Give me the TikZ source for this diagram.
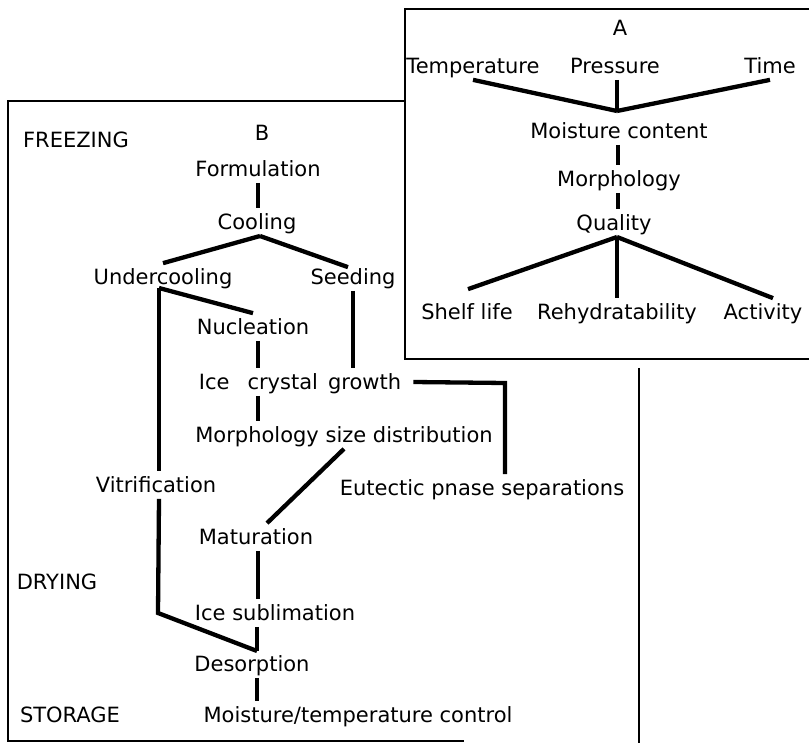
\documentclass[tikz,border=0pt]{standalone}
\usepackage{fontspec}
\setmainfont{DejaVu Sans}
\usetikzlibrary{calc}
\begin{document}
\begin{tikzpicture}[x=1pt,y=-1pt,
  lbl/.style={font=\fontsize{21}{25}\selectfont, text height=15.3pt, text depth=0pt, inner xsep=3pt, inner ysep=6pt, anchor=center},
  link/.style={line width=4.3pt},
  frame/.style={line width=1.8pt}]
\useasboundingbox (0,0) rectangle (809,743);
% frames
\draw[frame] (809,9) -- (405,9) -- (405,359) -- (809,359);
\draw[frame] (405,101) -- (8,101) -- (8,741) -- (464,741);
\draw[frame] (639,368) -- (639,743);
% ---- A ----
\node[lbl] (A) at (620,28) {A};
\node[lbl] (temp) at (473,66) {Temperature};
\node[lbl] (pres) at (615,66) {Pressure};
\node[lbl] (time) at (770,66) {Time};
\coordinate (vA) at (617,111);
\node[lbl] (moist) at (619,131) {Moisture content};
\node[lbl] (morphA) at (619,179) {Morphology};
\node[lbl] (qual) at (614,223) {Quality};
\coordinate (qA) at (617,237);
\node[lbl] (shelf) at (467,312) {Shelf life};
\node[lbl] (rehyd) at (617,312) {Rehydratability};
\node[lbl] (activ) at (763,312) {Activity};
\coordinate (spA) at (618,0);
\draw[link] (temp.south) -- (vA);
\draw[link] (time.south) -- (vA);
\draw[link] (pres.south -| vA) -- (vA);
\draw[link] (moist.south -| spA) -- (morphA.north -| spA);
\draw[link] (morphA.south -| spA) -- (qual.north -| spA);
\draw[link] (qA) -- ($(shelf.north)+(1,-9)$);
\draw[link] (qA) -- (rehyd.north -| qA);
\draw[link] (qA) -- ($(activ.north)+(10,0)$);
% ---- B ----
\node[lbl] (B) at (262,133) {B};
\node[lbl] (freez) at (76,140) {FREEZING};
\node[lbl] (form) at (258,169) {Formulation};
\node[lbl] (cool) at (257,222) {Cooling};
\coordinate (cA) at (260,236);
\node[lbl] (under) at (163,277) {Undercooling};
\node[lbl] (seed) at (353,277) {Seeding};
\coordinate (uA) at (159,288);
\node[lbl] (nucl) at (253,327) {Nucleation};
\node[lbl] (icg) at (300,382) {Ice\hspace{18pt}crystal\hspace{10pt}growth};
\coordinate (eA) at (505,383);
\node[lbl] (msd) at (344,435) {Morphology size distribution};
\node[lbl] (vitr) at (156,485) {Vitrification};
\node[lbl] (eut) at (482,488) {Eutectic pnase separations};
\node[lbl] (matur) at (256,537) {Maturation};
\node[lbl] (drying) at (57,582) {DRYING};
\node[lbl] (icesub) at (275,613) {Ice sublimation};
\coordinate (uB) at (158,613);
\coordinate (dB) at (257,651);
\node[lbl] (desorp) at (252,664) {Desorption};
\node[lbl] (storage) at (70,715) {STORAGE};
\node[lbl] (mtc) at (358,715) {Moisture/temperature control};
\coordinate (spB) at (258,0);
\draw[link] (form.south -| spB) -- (cool.north -| spB);
\draw[link] (cA) -- (under.north);
\draw[link] (cA) -- ($(seed.north)+(-5,4)$);
\draw[link] (uA) -- (nucl.north);
\draw[link] (uA) -- (uA |- vitr.north);
\draw[link] (vitr.south -| uA) -- (uB) -- (dB);
\draw[link] (nucl.south -| spB) -- (icg.north -| spB);
\draw[link] (seed.south) -- (seed.south |- icg.north);
\draw[link] ($(icg.east)+(9,0)$) -- (eA) -- (eA |- eut.north);
\draw[link] (icg.south -| spB) -- (msd.north -| spB);
\draw[link] (msd.south) -- ($(matur.north)+(11,0)$);
\draw[link] (matur.south -| spB) -- (icesub.north -| spB);
\draw[link] (icesub.south -| dB) -- (dB);
\draw[link] (desorp.south -| dB) -- (mtc.north -| dB);
\end{tikzpicture}
\end{document}
